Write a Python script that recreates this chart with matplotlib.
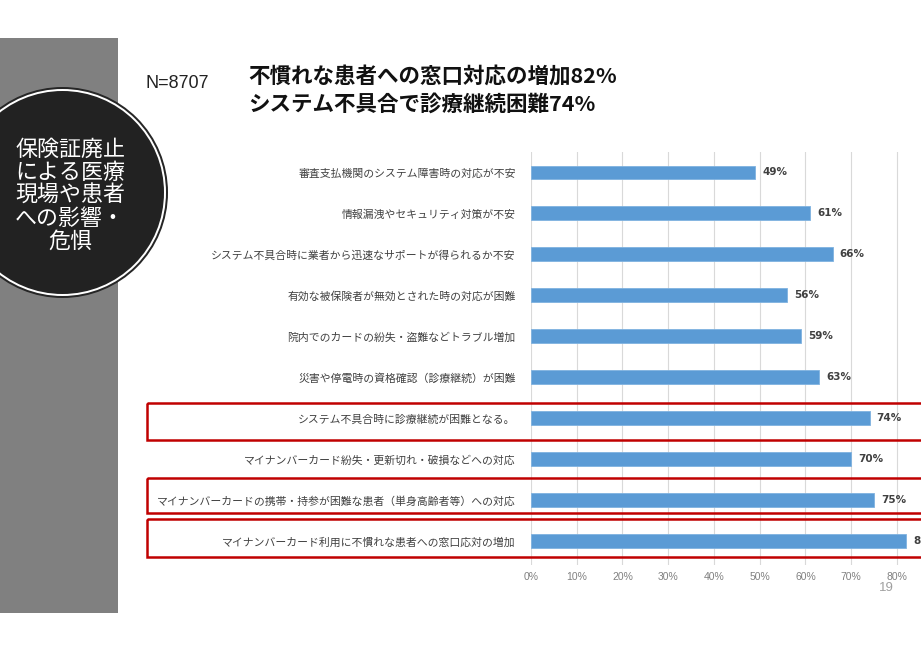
import matplotlib
matplotlib.use("Agg")
import matplotlib.pyplot as plt
from matplotlib.patches import Rectangle, Circle
import matplotlib.transforms as mtrans

plt.rcParams['font.family'] = ['Noto Sans CJK JP', 'DejaVu Sans']

# data (top to bottom)
labels = [
    "審査支払機関のシステム障害時の対応が不安",
    "情報漏洩やセキュリティ対策が不安",
    "システム不具合時に業者から迅速なサポートが得られるか不安",
    "有効な被保険者が無効とされた時の対応が困難",
    "院内でのカードの紛失・盗難などトラブル増加",
    "災害や停電時の資格確認（診療継続）が困難",
    "システム不具合時に診療継続が困難となる。",
    "マイナンバーカード紛失・更新切れ・破損などへの対応",
    "マイナンバーカードの携帯・持参が困難な患者（単身高齢者等）への対応",
    "マイナンバーカード利用に不慣れな患者への窓口応対の増加",
]
values = [49, 61, 66, 56, 59, 63, 74, 70, 75, 82]
highlight = [6, 8, 9]
xticks = [0, 10, 20, 30, 40, 50, 60, 70, 80]

title_lines = ["不慣れな患者への窓口対応の増加82%", "システム不具合で診療継続困難74%"]
side_text = "保険証廃止\nによる医療\n現場や患者\nへの影響・\n危惧"

W, H = 921, 651
fig = plt.figure(figsize=(W / 100, H / 100), dpi=100)
fig.patch.set_facecolor("white")

# background layer in pixel coords
bg = fig.add_axes([0, 0, 1, 1])
bg.set_xlim(0, W)
bg.set_ylim(H, 0)
bg.axis("off")
bg.add_patch(Rectangle((0, 38), 118, 575, color="#808080", lw=0))
cx, cy = 62.5, 192.5
bg.add_patch(Circle((cx, cy), 105.5, color="#262626", lw=0))
bg.add_patch(Circle((cx, cy), 103.5, color="white", lw=0))
bg.add_patch(Circle((cx, cy), 101.5, color="#222222", lw=0))
bg.text(70, 196, side_text, color="white", fontsize=15.8, ha="center", va="center",
        linespacing=1.06)
bg.text(145, 83, "N=8707", family=["Liberation Sans", "DejaVu Sans"], fontsize=13,
        color="#222222", ha="left", va="center")
bg.text(248, 77, title_lines[0], fontsize=15.5, fontweight="bold", color="#111111",
        ha="left", va="center")
bg.text(248, 104, title_lines[1], fontsize=15.5, fontweight="bold", color="#111111",
        ha="left", va="center")
bg.text(886, 588, "19", fontsize=9.5, color="#a0a0a0", ha="center", va="center",
        family=["Liberation Sans", "DejaVu Sans"])

# bar chart
ax = fig.add_axes([531 / W, 1 - 565 / H, 390 / W, 413 / H])
ax.set_facecolor("none")
ypos = list(range(len(values)))
ax.barh(ypos, values, height=0.34, color="#5b9bd5", edgecolor="#7fb2e0", lw=0.6, zorder=3)
ax.set_xlim(0, 85.25)
ax.set_ylim(9.58, -0.5)
ax.set_xticks(xticks)
ax.set_xticklabels([f"{t}%" for t in xticks], family=["Liberation Sans", "DejaVu Sans"])
ax.tick_params(axis="x", length=0, labelsize=7.5, labelcolor="#808080", pad=5)
ax.set_yticks(ypos)
ax.set_yticklabels(labels)
ax.tick_params(axis="y", length=0, labelsize=7.8, labelcolor="#404040", pad=11)
ax.grid(axis="x", color="#d9d9d9", lw=0.8, zorder=0)
for s in ax.spines.values():
    s.set_visible(False)

for y, v in zip(ypos, values):
    ax.text(v + 1.5, y, f"{v}%", fontsize=7.5, fontweight="bold", color="#404040",
            va="center", ha="left", family=["DejaVu Sans"], clip_on=False)

# red boxes around highlighted rows
trans = mtrans.blended_transform_factory(ax.transAxes, ax.transData)
spans = {6: (-0.37, 0.54), 8: (-0.54, 0.32), 9: (-0.54, 0.39)}
x0 = (147 - 531) / 390
for i in highlight:
    a, b = spans[i]
    ax.add_patch(Rectangle((x0, i + a), 1.2 - x0, b - a, transform=trans, fill=False,
                           edgecolor="#c00000", lw=1.8, clip_on=False, zorder=5))

fig.savefig("out.png", dpi=100)
